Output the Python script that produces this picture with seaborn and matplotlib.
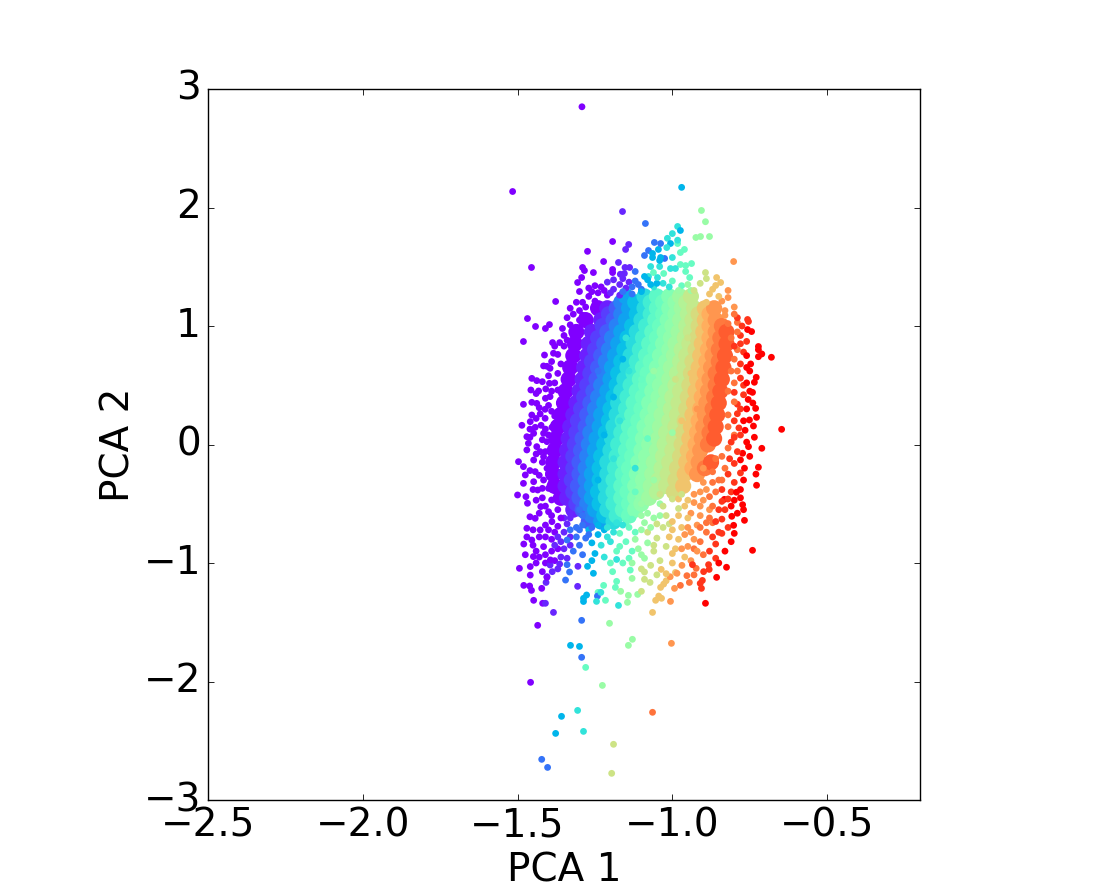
import numpy as np
import pandas as pd
import matplotlib
matplotlib.use("Agg")
import matplotlib.pyplot as plt
import seaborn as sns

N = np.nan
# rows and colour columns of the densely packed centre of the cloud
core_y = [1.25,1.15,1.05,.95,.85,.75,.65,.55,.45,.35,.25,.15,.05,-.05,-.15,-.25,-.35,-.45,-.55,-.65]
core_c00 = [N,-1.24,-1.28,-1.31,-1.315,-1.32,-1.33,-1.335,-1.345,-1.35,-1.36,-1.37,-1.375,-1.38,-1.385,-1.385,-1.38,-1.36,N,N]
core_c04 = [N,-1.21,-1.23,-1.26,-1.27,-1.275,-1.285,-1.29,-1.30,-1.31,-1.32,-1.33,-1.335,-1.34,-1.345,-1.345,-1.345,-1.34,-1.32,N]
core_c12 = [N,-1.18,-1.19,-1.21,-1.22,-1.23,-1.24,-1.245,-1.255,-1.265,-1.275,-1.28,-1.29,-1.295,-1.30,-1.30,-1.305,-1.30,-1.29,-1.27]
core_c22 = [-1.15,-1.14,-1.15,-1.165,-1.175,-1.185,-1.195,-1.20,-1.21,-1.22,-1.23,-1.235,-1.245,-1.25,-1.255,-1.26,-1.26,-1.26,-1.25,-1.23]
core_c33 = [-1.09,-1.09,-1.10,-1.115,-1.125,-1.135,-1.145,-1.155,-1.165,-1.175,-1.18,-1.19,-1.195,-1.20,-1.21,-1.21,-1.215,-1.215,-1.21,-1.19]
core_c43 = [-1.05,-1.05,-1.055,-1.065,-1.075,-1.085,-1.095,-1.105,-1.115,-1.125,-1.13,-1.14,-1.145,-1.15,-1.155,-1.16,-1.165,-1.165,-1.16,N]
core_c50 = [-1.01,-1.01,-1.015,-1.025,-1.03,-1.04,-1.05,-1.06,-1.065,-1.075,-1.08,-1.09,-1.095,-1.10,-1.11,-1.115,-1.12,-1.12,-1.12,N]
core_c56 = [-.975,-.97,-.975,-.98,-.99,-.995,-1.005,-1.01,-1.02,-1.025,-1.035,-1.04,-1.045,-1.05,-1.06,-1.065,-1.07,-1.075,N,N]
core_c63 = [-.94,-.93,-.935,-.94,-.945,-.955,-.96,-.965,-.975,-.98,-.985,-.99,-.995,-1.0,-1.01,-1.015,-1.02,N,N,N]
core_c72 = [N,-.895,-.895,-.90,-.905,-.91,-.915,-.92,-.925,-.93,-.935,-.94,-.945,-.95,-.955,-.96,-.965,N,N,N]
core_c80 = [N,-.865,-.86,-.86,-.865,-.87,-.875,-.88,-.885,-.89,-.895,-.90,-.905,-.91,-.915,-.92,N,N,N,N]
core_c88 = [N,N,N,-.825,-.825,-.83,-.835,-.84,-.845,-.85,-.855,-.86,-.865,N,-.875,N,N,N,N,N]

# second set of rows, lying between the first ones
core2_y = [1.2,1.1,1.0,.9,.8,.7,.6,.5,.4,.3,.2,.1,0,-.1,-.2,-.3,-.4,-.5,-.6]
core2_c08 = [N,-1.205,-1.225,-1.24,-1.25,-1.26,-1.265,-1.275,-1.285,-1.295,-1.305,-1.31,-1.315,-1.32,-1.32,-1.325,-1.32,-1.31,N]
core2_c17 = [-1.165,-1.165,-1.18,-1.195,-1.205,-1.215,-1.22,-1.23,-1.24,-1.25,-1.255,-1.265,-1.27,-1.275,-1.28,-1.28,-1.28,-1.275,-1.26]
core2_c27 = [-1.12,-1.115,-1.13,-1.145,-1.155,-1.165,-1.175,-1.18,-1.19,-1.2,-1.205,-1.215,-1.22,-1.23,-1.235,-1.235,-1.24,-1.235,-1.22]
core2_c38 = [-1.07,-1.07,-1.085,-1.095,-1.105,-1.115,-1.125,-1.135,-1.145,-1.15,-1.16,-1.165,-1.175,-1.18,-1.185,-1.19,-1.19,-1.19,-1.18]
core2_c46 = [-1.03,-1.03,-1.04,-1.05,-1.055,-1.07,-1.08,-1.085,-1.095,-1.1,-1.11,-1.12,-1.125,-1.13,-1.14,-1.14,-1.145,-1.14,-1.14]
core2_c53 = [-.99,-.99,-1.0,-1.005,-1.01,-1.02,-1.03,-1.04,-1.045,-1.055,-1.065,-1.07,-1.075,-1.085,-1.09,-1.095,-1.1,-1.1,N]
core2_c60 = [-.955,-.95,-.955,-.96,-.97,-.975,-.985,-.99,-1.0,-1.005,-1.01,-1.02,-1.025,-1.03,-1.035,-1.045,-1.05,N,N]
core2_c67 = [N,-.915,-.915,-.92,-.925,-.935,-.94,-.945,-.95,-.955,-.96,-.965,-.97,-.975,-.985,-.99,-.995,N,N]
core2_c76 = [N,-.88,-.88,-.88,-.885,-.89,-.895,-.9,-.905,-.91,-.915,-.92,-.925,-.93,-.935,N,N,N,N]
core2_c84 = [N,N,-.84,-.845,-.85,-.85,-.86,-.86,-.865,-.87,-.875,-.88,-.885,N,-.895,N,N,N,N]

# individually read points, one list per colour step
pts_000 = [(-1.292,2.85),(-1.516,2.135),(-1.193,1.713),(-1.274,1.63),(-1.455,1.494),(-1.222,1.544),(-1.29,1.494),(-1.284,1.468),
 (-1.255,1.451),(-1.193,1.477),(-1.193,1.451),(-1.293,1.409),(-1.306,1.367),(-1.3,1.291),(-1.377,1.207),(-1.468,1.063),(-1.442,.996),
 (-1.41,.979),(-1.397,1.012),(-1.481,.869),(-1.355,.979),(-1.387,.86),(-1.364,.86),(-1.25,1.34),(-1.27,1.32),(-1.23,1.33),(-1.29,1.2),
 (-1.27,1.25),(-1.31,1.2),(-1.33,1.15),(-1.34,1.07),(-1.33,1.01),(-1.35,.92),(-1.34,.88),(-1.3,1.13),(-1.35,.83),(-1.25,1.21),
 (-1.413,.755),(-1.384,.77),(-1.416,.663),(-1.395,.643),(-1.454,.558),(-1.438,.539),(-1.397,.516),(-1.457,.46),(-1.432,.452),(-1.409,.469),
 (-1.395,.404),(-1.481,.339),(-1.454,.356),(-1.438,.347),(-1.411,.297),(-1.454,.249),(-1.427,.258),(-1.411,.221),(-1.486,.162),(-1.459,.193),
 (-1.424,.162),(-1.389,.145),(-1.443,.145),(-1.47,.066),(-1.448,.094),(-1.416,.094),(-1.465,.01),(-1.438,-.018),(-1.405,.024),(-1.47,-.046),
 (-1.427,-.06),(-1.497,-.145),(-1.481,-.187),(-1.448,-.131),(-1.416,-.103),(-1.475,-.257),(-1.443,-.229),(-1.405,-.201),(-1.481,-.328),
 (-1.448,-.314),(-1.416,-.3),(-1.5,-.426),(-1.473,-.44),(-1.435,-.384),(-1.4,-.37),(-1.468,-.496),(-1.425,-.524),(-1.39,-.468),(-1.4,-.567),
 (-1.443,-.623),(-1.47,-.707),(-1.427,-.721),(-1.389,-.651),(-1.48,-.84),(-1.454,-.806),(-1.416,-.862),(-1.449,-.946),(-1.394,-.974),
 (-1.494,-1.045),(-1.459,-1.03),(-1.42,-1.073),(-1.405,-1.121),(-1.459,-1.102),(-1.48,-1.189),(-1.461,-1.194),(-1.455,-1.231),(-1.422,-1.214),
 (-1.448,-1.315),(-1.419,-1.34),(-1.435,-1.526),(-1.458,-2.007),(-1.44,-.9),(-1.41,-.93),(-1.43,-.78),(-1.45,-.72),(-1.41,-.68),(-1.46,-.61),
 (-1.42,-.45),(-1.45,-.38),(-1.44,-.08),(-1.46,.13),(-1.42,.04),(-1.43,.31),(-1.41,.39),(-1.4,.58),(-1.39,.7),(-1.37,.46),(-1.38,.24),
 (-1.39,-.02),(-1.4,-.25),(-1.37,-.55),(-1.38,-.74),(-1.39,-.8),(-1.37,-.88),(-1.38,-.98),(-1.41,-1.0),(-1.44,-1.0),(-1.475,-.93),
 (-1.24,1.28),(-1.22,1.3),(-1.26,1.29),(-1.21,1.26),(-1.29,1.09),(-1.32,1.1),(-1.3,1.05),(-1.28,1.16),(-1.37,.76),(-1.36,.68),(-1.37,.6),
 (-1.38,.52),(-1.39,.45),(-1.4,.33),(-1.39,.28),(-1.41,.13),(-1.4,.08),(-1.42,-.15),(-1.41,-.06),(-1.43,-.26),(-1.42,-.37),(-1.41,-.52),
 (-1.43,-.58),(-1.39,-.6),(-1.41,-.78),(-1.45,-.85),(-1.39,-.9),(-1.43,-.95),(-1.37,-.69),(-1.36,-.62),(-1.4,-.72),(-1.47,-.78),(-1.46,-.22),
 (-1.44,-.47),(-1.46,.06),(-1.44,.22),(-1.44,.43),(-1.42,.53),(-1.405,.66),(-1.38,.83)]
pts_005 = [(-1.161,1.966),(-1.141,1.688),(-1.151,1.646),(-1.174,1.536),(-1.153,1.494),(-1.138,1.494),(-1.168,1.437),(-1.155,1.443),(-1.306,-1.197),
 (-1.41,-1.34),(-1.384,-1.417),(-1.408,-1.164),(-1.305,-1.028),(-1.395,-1.017),(-1.405,-1.115),(-1.388,-1.073),(-1.364,-1.009),(-1.19,1.39),
 (-1.21,1.37),(-1.17,1.35),(-1.15,1.32),(-1.2,1.28),(-1.17,1.26),(-1.36,-.82),(-1.35,-.74),(-1.34,-.67),(-1.36,-.95),(-1.33,-.85),(-1.34,-.96),
 (-1.35,-.62),(-1.33,-.58),(-1.37,-1.05),(-1.19,1.31),(-1.16,1.4),(-1.14,1.37),(-1.33,-.62),(-1.35,-.88),(-1.38,-.85),(-1.37,-.78),(-1.33,-.78)]
pts_015 = [(-1.087,1.865),(-1.12,1.46),(-1.293,-1.484),(-1.422,-2.657),(-1.403,-2.725),(-1.345,-1.144),(-1.332,-1.076),(-1.34,-1.014),(-1.34,-.806),
 (-1.32,-.9),(-1.31,-.78),(-1.31,-.7),(-1.33,-.72),(-1.29,-.68),(-1.3,-.85),(-1.28,-.79),(-1.242,-1.279),(-1.293,-1.796),(-1.058,1.705),
 (-1.038,1.696),(-1.077,1.637),(-1.09,1.595),(-1.025,1.57),(-1.29,-.93),(-1.12,1.38),(-1.13,1.33),(-1.1,1.31),(-1.13,1.27),(-1.26,-.7),(-1.27,-.76),
 (-1.3,-.72),(-1.16,1.29),(-1.11,1.35),(-1.24,.62),(-1.29,-.6),(-1.3,-.55)]
pts_025 = [(-.97,2.17),(-1.006,1.696),(-1.045,1.646),(-1.064,1.612),(-1.064,1.578),(-1.038,1.578),(-1.329,-1.695),(-1.358,-2.294),(-1.377,-2.438),
 (-1.3,-1.704),(-1.09,1.418),(-.974,1.806),(-1.041,1.553),(-1.277,-1.27),(-1.287,-1.298),(-1.287,-1.325),(-1.274,-1.028),(-1.255,-1.087),
 (-1.26,-.83),(-1.24,-.76),(-1.27,-.72),(-1.25,-.92),(-1.07,1.35),(-1.1,1.29),(-1.16,.72),(-1.19,.4),(-1.22,.08),(-1.24,-.3),(-1.22,-.72),(-1.26,-.98),
 (-1.08,1.39),(-1.05,1.36),(-1.24,-.68)]
pts_035 = [(-.983,1.84),(-1.018,1.662),(-1.07,1.502),(-1.041,1.502),(-1.077,1.418),(-1.231,-1.248),(-1.306,-2.244),(-1.287,-2.421),(-1.245,-1.324),
 (-1.0,1.78),(-1.016,1.74),(-.983,1.724),(-1.0,1.578),(-1.006,1.485),(-.99,1.485),(-1.048,1.409),(-1.174,-1.358),(-1.21,-.7),(-1.19,-.74),
 (-1.2,-.82),(-1.23,-.85),(-1.22,-.95),(-1.15,.9),(-1.14,.62),(-1.17,.2),(-1.19,-.12),(-1.03,1.36),(-1.01,1.33),(-1.12,-.2),(-1.18,-.66),(-1.16,-.68),
 (-1.21,-.78),(-1.18,-.97),(-1.06,1.33)]
pts_045 = [(-.983,1.696),(-1.061,1.451),(-1.028,1.443),(-1.28,-1.881),(-1.24,-1.248),(-1.216,-1.315),(-1.222,-1.189),(-1.193,-1.073),(-.974,1.62),
 (-.961,1.646),(-.974,1.519),(-.938,1.527),(-.957,1.51),(-.957,1.46),(-.944,1.409),(-1.17,-.75),(-1.15,-.82),(-1.18,-.9),(-1.16,-1.0),(-1.2,-1.0),
 (-1.184,-1.206),(-1.18,-1.155),(-1.136,-1.06),(-1.14,-.7),(-1.13,-.9),(-1.1,.55),(-1.08,.05),(-1.12,-.4),(-1.0,1.38),(-.97,1.34),(-1.13,-.63),
 (-1.15,-.66),(-1.12,-.74),(-1.14,-.96),(-1.17,-.86)]
pts_055 = [(-.906,1.975),(-.893,1.88),(-.924,1.747),(-.909,1.755),(-.88,1.755),(-1.129,-1.644),(-1.142,-1.695),(-1.203,-1.509),(-1.226,-2.033),
 (-1.167,-1.239),(-1.145,-1.332),(-1.142,-1.273),(-1.112,-1.265),(-1.09,-.96),(-1.12,-.8),(-1.1,-.72),(-1.06,-.62),(-1.09,-.66),(-1.11,-.88),
 (-1.08,-.83),(-1.13,-1.13),(-1.13,-1.0),(-1.08,-.58),(-.95,1.35),(-1.06,.62),(-1.0,.1),(-1.06,-.3),(-1.04,-.5),(-1.1,-.5),(-1.1,-.6),(-1.07,-.7),
 (-1.1,-.93),(-1.04,-.6),(-.94,1.3),(-.98,1.3)]
pts_065 = [(-.893,1.451),(-.89,1.4),(-1.19,-2.53),(-1.196,-2.775),(-1.1,-1.239),(-1.09,-1.138),(-1.09,-1.076),(-1.072,-1.164),(-1.06,-.9),(-1.05,-.79),
 (-1.03,-.7),(-1.07,-1.02),(-1.04,-.98),(-1.08,-.74),(-1.02,-.6),(-1.05,-.67),(-1.1,-1.05),(-.91,1.36),(-.93,1.3),(-.95,.9),(-.99,.55),
 (-1.0,-.46),(-.98,-.54),(-1.04,-.42),(-1.02,-.86),(-1.03,-.52),(-1.06,-.85),(-1.05,-1.1),(-1.01,-.67),(-.97,-.42)]
pts_072 = [(-.857,1.409),(-.86,1.342),(-.844,1.367),(-1.064,-1.417),(-1.054,-1.315),(-1.035,-1.298),(-1.044,-1.279),(-1.038,-1.206),(-1.028,-1.178),
 (-1.036,-1.054),(-1.02,-1.15),(-1.0,-1.0),(-.99,-.88),(-1.01,-.78),(-.97,-.7),(-1.0,-.65),(-.98,-.8),(-.96,-.95),(-.95,-.62),(-.96,-.52),
 (-.99,-1.08),(-1.02,-1.09),(-.88,1.27),(-.85,1.25),(-.89,1.2),(-.94,.6),(-.97,.2),(-.98,-.6),(-1.0,-.72),(-1.0,-.92),(-.98,-.46),(-.95,-.47),(-.87,1.31)]
pts_080 = [(-.802,1.544),(-1.003,-1.678),(-1.006,-1.324),(-.993,-1.214),(-.985,-1.087),(-1.007,-1.116),(-.969,-1.02),(-.94,-.98),(-.95,-.86),(-.93,-.8),
 (-.96,-.76),(-.92,-.68),(-.94,-.58),(-.93,-.49),(-.91,-.6),(-.82,1.3),(-.84,1.21),(-.82,1.24),(-.85,1.15),(-.8,1.16),(-.83,1.09),(-.92,.3),(-.9,-.2),
 (-.95,-.7),(-.97,-.88),(-.92,-.9),(-.94,-.74),(-.91,-.52),(-.88,-.55),(-.9,-.47),(-.83,1.13),(-.93,-.42),(-.91,-.4),(-.89,-.38),(-.9,-.32)]
pts_085 = [(-1.064,-2.26),(-.974,-1.189),(-.953,-1.107),(-.945,-1.164),(-.923,-1.045),(-.9,-.93),(-.91,-.82),(-.89,-.74),(-.88,-.62),(-.87,-.52),(-.88,-.44),
 (-.8,1.1),(-.79,1.03),(-.82,1.02),(-.79,.95),(-.81,.9),(-.79,.8),(-.8,.72),(-.79,.62),(-.8,.52),(-.82,.15),(-.84,-.1),(-.85,-.3),(-.86,-.4),(-.93,-1.1),
 (-.81,.62),(-.82,.45),(-.8,.36),(-.82,.25),(-.8,.08),(-.82,-.03),(-.83,-.2),(-.84,-.3),(-.89,-.66),(-.91,-.7),(-.87,-.66),(-.93,-.88),(-.87,-.23),(-.86,-.12),(-.87,-.32)]
pts_093 = [(-.906,-1.214),(-.91,-1.172),(-.903,-1.147),(-.935,-1.014),(-.899,-1.073),(-.881,-1.054),(-.883,-1.014),(-.88,-.9),(-.86,-.84),(-.85,-.74),(-.84,-.63),
 (-.83,-.55),(-.82,-.46),(-.84,-.38),(-.8,-.32),(-.78,-.24),(-.8,-.16),(-.79,-.06),(-.81,.02),(-.78,.08),(-.8,.2),(-.78,.3),(-.77,.42),(-.78,.56),
 (-.78,.68),(-.77,.78),(-.76,.87),(-.78,.92),(-.757,1.055),(-.754,1.038),(-.775,1.0),(-.79,1.07),(-.86,-.96),(-.87,-.78),(-.82,-.7),(-.8,.44),(-.79,.26),
 (-.785,.14),(-.8,.06),(-.815,-.12),(-.82,-.25),(-.85,-.55),(-.86,-.65),(-.84,-.75),(-.84,-.48),(-.81,-.4),(-.77,.5),(-.79,.34),(-.8,.83),(-.78,.85)]
pts_100 = [(-.757,.97),(-.744,.953),(-.722,.827),(-.722,.8),(-.711,.764),(-.722,.741),(-.68,.736),(-.747,.68),(-.729,.567),(-.735,.525),(-.741,.44),
 (-.731,.305),(-.728,.229),(-.751,.207),(-.738,.156),(-.647,.128),(-.735,.061),(-.711,-.032),(-.754,-.018),(-.773,-.074),(-.767,-.2),(-.722,-.192),
 (-.73,-.25),(-.728,-.344),(-.793,-.403),(-.832,-.463),(-.773,-.508),(-.808,-.606),(-.767,-.64),(-.802,-.682),(-.741,-.893),(-.825,-1.036),(-.893,-1.34),
 (-.857,-1.121),(-.76,.75),(-.75,.62),(-.76,.52),(-.755,.38),(-.76,.3),(-.765,.12),(-.76,.02),(-.75,-.1),(-.77,-.3),(-.79,-.58),(-.78,-.45),(-.81,-.52),
 (-.81,-.82),(-.83,-.9),(-.85,-1.0),(-.8,-.75),(-.77,.2),(-.78,-.13),(-.75,.45),(-.76,.65),(-.74,.35),(-.78,-.38),(-.8,-.47),(-.77,-.55)]

colour_steps = {0.0: pts_000, 0.05: pts_005, 0.15: pts_015, 0.25: pts_025, 0.35: pts_035, 0.45: pts_045, 0.55: pts_055,
                0.65: pts_065, 0.72: pts_072, 0.80: pts_080, 0.85: pts_085, 0.93: pts_093, 1.0: pts_100}
core_columns = {0.0: core_c00, 0.04: core_c04, 0.12: core_c12, 0.22: core_c22, 0.33: core_c33, 0.43: core_c43, 0.50: core_c50,
                0.56: core_c56, 0.63: core_c63, 0.72: core_c72, 0.80: core_c80, 0.88: core_c88}
core2_columns = {0.08: core2_c08, 0.17: core2_c17, 0.27: core2_c27, 0.38: core2_c38, 0.46: core2_c46, 0.53: core2_c53,
                 0.60: core2_c60, 0.67: core2_c67, 0.76: core2_c76, 0.84: core2_c84}
xtick_values = [-2.5, -2.0, -1.5, -1.0, -0.5]
ytick_values = [-3, -2, -1, 0, 1, 2, 3]

core = pd.concat([pd.DataFrame({"x": xs, "y": core_y, "c": c}) for c, xs in core_columns.items()]
                 + [pd.DataFrame({"x": xs, "y": core2_y, "c": c}) for c, xs in core2_columns.items()]).dropna()
core = core.sort_values("c")
small = pd.concat([pd.DataFrame(p, columns=["x", "y"]).assign(c=c) for c, p in colour_steps.items()])
small = small.sample(frac=1, random_state=3)

plt.style.use("classic")
plt.rcParams["font.family"] = "DejaVu Sans"
plt.rcParams["axes.unicode_minus"] = True
fig = plt.figure(figsize=(11, 8.9), dpi=100, facecolor="white")
ax = fig.add_axes([208/1100, 1-800/890, 712/1100, 711/890])

sns.scatterplot(data=core, x="x", y="y", hue="c", hue_norm=(0, 1), palette="rainbow",
                s=135, linewidth=0, legend=False, ax=ax)
sns.scatterplot(data=small, x="x", y="y", hue="c", hue_norm=(0, 1), palette="rainbow",
                s=24, linewidth=0, legend=False, ax=ax)

ax.set_xlim(-2.5, -0.2)
ax.set_ylim(-3, 3)
ax.set_xticks(xtick_values)
ax.set_yticks(ytick_values)
ax.tick_params(labelsize=28, direction="in", length=4, width=0.6, top=True, right=True, pad=5)
ax.set_xlabel("PCA 1", fontsize=28, labelpad=5)
ax.set_ylabel("PCA 2", fontsize=28, labelpad=4)
fig.savefig("out.png", dpi=100, facecolor="white")
